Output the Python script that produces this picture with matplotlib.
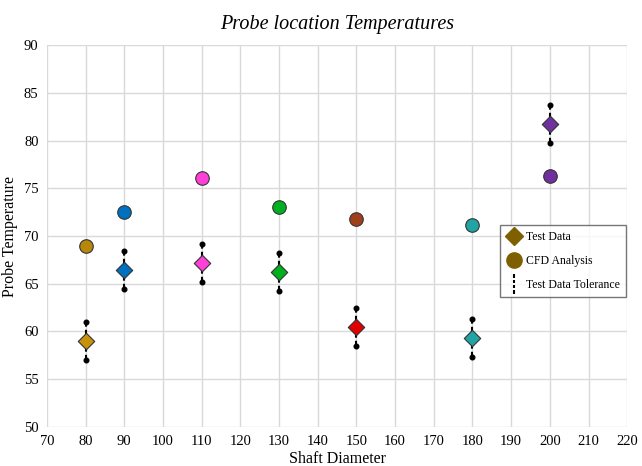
import numpy as np
import matplotlib.pyplot as plt
from matplotlib.lines import Line2D
from matplotlib.path import Path

plt.rcParams['font.family'] = ['Liberation Serif', 'DejaVu Serif']

# Data
diameter = [80, 90, 110, 130, 150, 180, 200]
test_data = [59.0, 66.4, 67.2, 66.2, 60.5, 59.3, 81.7]
cfd = [69.0, 72.5, 76.1, 73.0, 71.8, 71.2, 76.3]
tolerance = [2.0, 2.0, 2.0, 2.0, 2.0, 2.0, 2.0]
diamond_colors = ['#C8920C', '#0070C0', '#FF40D8', '#00B020', '#E00000', '#20A4A4', '#7030A0']
circle_colors = ['#B8860B', '#0070C0', '#FF40D8', '#00B020', '#A0401A', '#20A4A4', '#7030A0']

fig, ax = plt.subplots(figsize=(6.42, 4.66), dpi=100)
fig.subplots_adjust(left=0.073, right=0.977, top=0.903, bottom=0.084)

for x, t, c, tol, dc, cc in zip(diameter, test_data, cfd, tolerance, diamond_colors, circle_colors):
    ax.vlines(x, t - tol, t + tol, colors='black', linestyles=(0, (2.5, 1.5)), linewidth=1.5, zorder=3)
    ax.scatter([x, x], [t - tol, t + tol], s=11, color='black', zorder=4)
    ax.scatter(x, t, marker='D', s=70, color=dc, edgecolor='#333333', linewidth=0.8, zorder=5)
    ax.scatter(x, c, marker='o', s=95, color=cc, edgecolor='#333333', linewidth=0.8, zorder=5)

ax.set_xlim(70, 220)
ax.set_ylim(50, 90)
ax.set_xticks(np.arange(70, 221, 10))
ax.set_yticks(np.arange(50, 91, 5))
ax.grid(True, color='#D9D9D9', linewidth=1)
ax.set_axisbelow(True)
for s in ax.spines.values():
    s.set_visible(False)
ax.tick_params(length=0, labelsize=10.5, pad=6)

ax.set_title('Probe location Temperatures', fontsize=14.5, style='italic', pad=12)
ax.set_xlabel('Shaft Diameter', fontsize=11.5, labelpad=2)
ax.set_ylabel('Probe Temperature', fontsize=11.5, labelpad=4)

# dashed vertical marker for the legend
verts = []
codes = []
for y0 in [-1.0, -0.45, 0.1, 0.65]:
    verts += [(0, y0), (0, y0 + 0.35)]
    codes += [Path.MOVETO, Path.LINETO]
dash_marker = Path(verts, codes)

handles = [
    Line2D([], [], marker='D', color='#7F6000', linestyle='none', markersize=9),
    Line2D([], [], marker='o', color='#7F6000', linestyle='none', markersize=11),
    Line2D([], [], marker=dash_marker, color='black', markeredgewidth=1.5, linestyle='none', markersize=14),
]
leg = ax.legend(handles, ['Test Data', 'CFD Analysis', 'Test Data Tolerance'],
                loc='upper left', bbox_to_anchor=(0.781, 0.53), fontsize=8.5,
                frameon=True, fancybox=False, edgecolor='#555555', handletextpad=0.4,
                handlelength=1.2, labelspacing=1.0, borderpad=0.55, borderaxespad=0)
leg.get_frame().set_linewidth(1)

fig.savefig('out.png')
